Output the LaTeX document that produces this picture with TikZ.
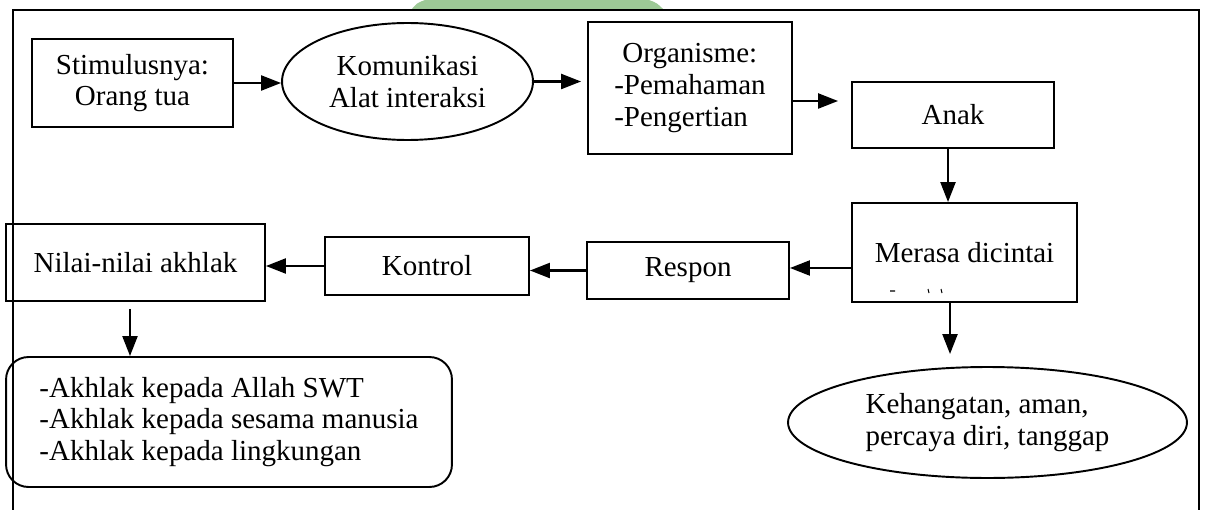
\documentclass[tikz,border=0pt]{standalone}
\usepackage{fontspec}
\setmainfont{Liberation Serif}
\usetikzlibrary{arrows.meta,shapes.geometric}
\definecolor{wmgreen}{RGB}{157,201,150}

\begin{document}
\begin{tikzpicture}[x=0.02cm, y=-0.02cm,
    font=\fontsize{16.5}{18}\selectfont,
    kotak/.style={draw, line width=1.1pt, inner sep=0pt, align=center},
    oval/.style={draw, ellipse, line width=1.1pt, inner sep=0pt, align=center},
    panah/.style={-{Triangle[length=4mm,width=3mm]}, line width=1.3pt}]
\useasboundingbox (0,0) rectangle (1206,510);
\fill[wmgreen] (411,10) .. controls (417,3) .. (425,0) -- (649,0) .. controls (657,3) .. (664,10) -- cycle;
\draw[line width=1.1pt] (13,510) -- (13,10) -- (1199,10) -- (1199,510);

% top row
\node[kotak, minimum width=4.02cm, minimum height=1.76cm] (stimulus) at (132.5, 83) {Stimulusnya:\\Orang tua};
\node[oval, minimum width=5.02cm, minimum height=2.34cm] (komunikasi) at (407.5, 81.5) {Komunikasi\\Alat interaksi};
\node[kotak, minimum width=4.08cm, minimum height=2.64cm, align=left] (organisme) at (690, 88) {\hspace*{0.28em}Organisme:\\-Pemahaman\\-Pengertian};
\node[kotak, minimum width=4.04cm, minimum height=1.32cm] (anak) at (953, 115) {Anak};

% middle row
\node[kotak, minimum width=4.5cm, minimum height=1.98cm] (dicintai) at (964.5, 252.5) {Merasa dicintai};
\node[kotak, minimum width=4.04cm, minimum height=1.14cm] (respon) at (688, 270.5) {Respon};
\node[kotak, minimum width=4.08cm, minimum height=1.16cm] (kontrol) at (427, 266) {Kontrol};
\node[kotak, minimum width=5.18cm, minimum height=1.54cm] (nilai) at (135.5, 262.5) {Nilai-nilai akhlak};

% bottom row
\node[kotak, rounded corners=0.45cm, minimum width=8.92cm, minimum height=2.6cm, align=left] (akhlak) at (229, 422) {-Akhlak kepada Allah SWT\\-Akhlak kepada sesama manusia\\-Akhlak kepada lingkungan};
\node[oval, minimum width=7.98cm, minimum height=2.22cm, align=left] (kehangatan) at (987.5, 422.5) {Kehangatan, aman,\\percaya diri, tanggap};

% cut-off text marks
\draw[line width=0.6pt] (890,291) -- (895,291) (928,289) -- (929,293) (941,289) -- (942,293);

\draw[panah] (stimulus.east) -- (stimulus.east -| komunikasi.west);
\draw[panah, shorten >=0.12cm] (komunikasi.east) -- (komunikasi.east -| organisme.west);
\draw[panah, shorten >=0.26cm] ([yshift=-0.26cm]organisme.east) -- ([yshift=-0.26cm]organisme.east -| anak.west);
\draw[panah] ([xshift=-0.1cm]anak.south) -- ([xshift=-0.1cm]anak.south |- dicintai.north);
\draw[panah] ([yshift=-0.31cm]dicintai.west) -- ([yshift=-0.31cm]dicintai.west -| respon.east);
\draw[panah] (respon.west) -- (respon.west -| kontrol.east);
\draw[panah] (kontrol.west) -- (kontrol.west -| nilai.east);
\draw[panah] ([xshift=-0.11cm, yshift=-0.14cm]nilai.south) -- ([xshift=-0.11cm]nilai.south |- akhlak.north);
\draw[panah] ([xshift=-0.29cm]dicintai.south) -- ([xshift=-0.29cm, yshift=0.24cm]dicintai.south |- kehangatan.north);
\end{tikzpicture}
\end{document}
